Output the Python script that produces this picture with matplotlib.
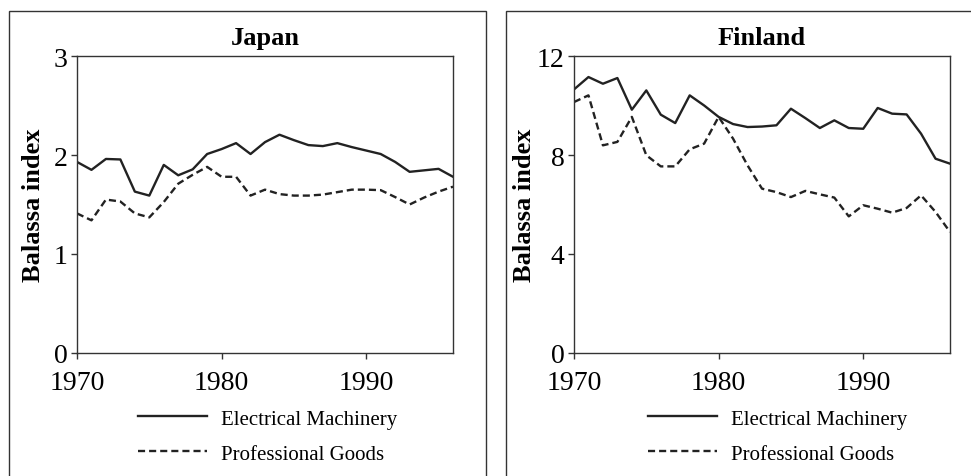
import matplotlib
matplotlib.use("Agg")
import matplotlib.pyplot as plt
from matplotlib.patches import Rectangle

plt.rcParams['font.family'] = ['Liberation Serif', 'DejaVu Serif']

years = list(range(1970, 1997))

# Japan, Balassa index
japan_elec = [1.93, 1.85, 1.96, 1.955, 1.63, 1.59, 1.90, 1.795, 1.855, 2.01,
              2.06, 2.12, 2.01, 2.13, 2.205, 2.15, 2.10, 2.09, 2.12, 2.08,
              2.045, 2.01, 1.93, 1.83, 1.845, 1.86, 1.78]
japan_prof = [1.41, 1.34, 1.55, 1.53, 1.41, 1.37, 1.525, 1.71, 1.80, 1.88,
              1.78, 1.78, 1.59, 1.65, 1.605, 1.59, 1.59, 1.60, 1.625, 1.65,
              1.65, 1.645, 1.575, 1.50, 1.57, 1.63, 1.68]

# Finland, Balassa index
finland_elec = [10.65, 11.15, 10.88, 11.11, 9.83, 10.61, 9.63, 9.29, 10.41, 10.0,
                9.54, 9.25, 9.13, 9.15, 9.20, 9.87, 9.49, 9.09, 9.40, 9.09,
                9.06, 9.90, 9.67, 9.64, 8.86, 7.85, 7.65]
finland_prof = [10.14, 10.41, 8.39, 8.53, 9.54, 7.99, 7.54, 7.54, 8.23, 8.46,
                9.54, 8.66, 7.58, 6.64, 6.50, 6.30, 6.55, 6.41, 6.28, 5.52,
                5.97, 5.83, 5.67, 5.86, 6.37, 5.70, 4.89]

panels = [
    ("Japan", japan_elec, japan_prof, 3, [0, 1, 2, 3]),
    ("Finland", finland_elec, finland_prof, 12, [0, 4, 8, 12]),
]

ink = '#222222'
fig = plt.figure(figsize=(9.71, 4.77), dpi=100)

# outer frames around each panel (open at the bottom / right as in the scan)
fig.add_artist(Rectangle((9 / 971, -0.2), 477 / 971, 1.2 - 12 / 477,
                         transform=fig.transFigure, fill=False, lw=1.0, ec='#333333'))
fig.add_artist(Rectangle((506 / 971, -0.2), 0.6, 1.2 - 12 / 477,
                         transform=fig.transFigure, fill=False, lw=1.0, ec='#333333'))

lefts = [77 / 971, 574 / 971]
label_x = [-0.085, -0.10]
legend_x = [138 / 971, 648 / 971]

for i, (name, elec, prof, ymax, yticks) in enumerate(panels):
    ax = fig.add_axes([lefts[i], 1 - 354 / 477, 376 / 971, 297 / 477])
    ax.plot(years, elec, color=ink, lw=1.7, label='Electrical Machinery')
    ax.plot(years, prof, color=ink, lw=1.7, dashes=(3.0, 1.7), label='Professional Goods')
    ax.set_xlim(1970, 1996)
    ax.set_ylim(0, ymax)
    ax.set_xticks([1970, 1980, 1990])
    ax.set_yticks(yticks)
    ax.tick_params(direction='out', length=4.5, width=1.0, color='#333333',
                   labelsize=20, top=False, right=False)
    ax.tick_params(axis='x', pad=7.5)
    ax.tick_params(axis='y', pad=2.5)
    for s in ax.spines.values():
        s.set_linewidth(1.0)
        s.set_color('#333333')
    ax.set_title(name, fontsize=19, fontweight='bold', pad=8.5)
    ax.set_ylabel('Balassa index', fontsize=19, fontweight='bold')
    ax.yaxis.set_label_coords(label_x[i], 0.5)
    ax.legend(loc='upper left', bbox_to_anchor=(legend_x[i], 1 - 410 / 477),
              bbox_transform=fig.transFigure, frameon=False, fontsize=15,
              handlelength=3.3, handletextpad=0.7, labelspacing=0.75,
              borderaxespad=0, borderpad=0)

fig.savefig('out.png', dpi=100)
